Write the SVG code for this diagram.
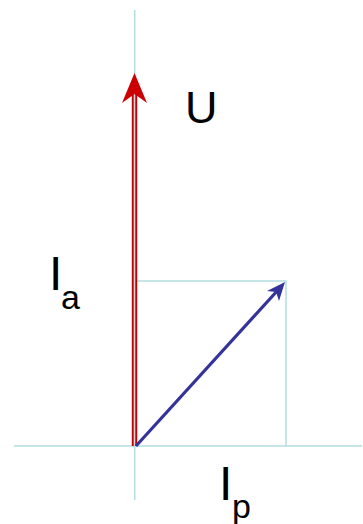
<svg xmlns="http://www.w3.org/2000/svg" width="363" height="524" viewBox="0 0 363 524">
<style>
.ax{stroke:#b3dde0;stroke-width:1.5;fill:none}
.t{font-family:"Liberation Sans",Arial,sans-serif;fill:#000}
</style>
<g id="axes">
<line class="ax" x1="134.7" y1="10" x2="134.7" y2="500"/>
<line class="ax" x1="14" y1="446" x2="362" y2="446"/>
<polyline class="ax" points="135,281 286,281 286,446"/>
</g>
<g id="vectorU">
<line x1="132.8" y1="446" x2="132.8" y2="85" stroke="#c00000" stroke-width="2"/>
<line x1="136.2" y1="446" x2="136.2" y2="85" stroke="#c00000" stroke-width="2"/>
<line x1="134.5" y1="446" x2="134.5" y2="85" stroke="#cfd6d8" stroke-width="1.2"/>
<path d="M134.5,73 L147,103 L134.5,94 L122,103 Z" fill="#cc0000"/>
</g>
<g id="vectorI">
<line x1="136" y1="446" x2="278" y2="290" stroke="#333399" stroke-width="3.2"/>
<path d="M285,282 L279,301 L276,292 L267,291 Z" fill="#333399"/>
</g>
<g id="labels">
<text class="t" x="185" y="123" font-size="45">U</text>
<text class="t" x="49" y="290" font-size="48">I</text>
<text class="t" x="61" y="309" font-size="34">a</text>
<text class="t" x="219" y="500" font-size="48">I</text>
<text class="t" x="232" y="518" font-size="34">p</text>
</g>
</svg>
